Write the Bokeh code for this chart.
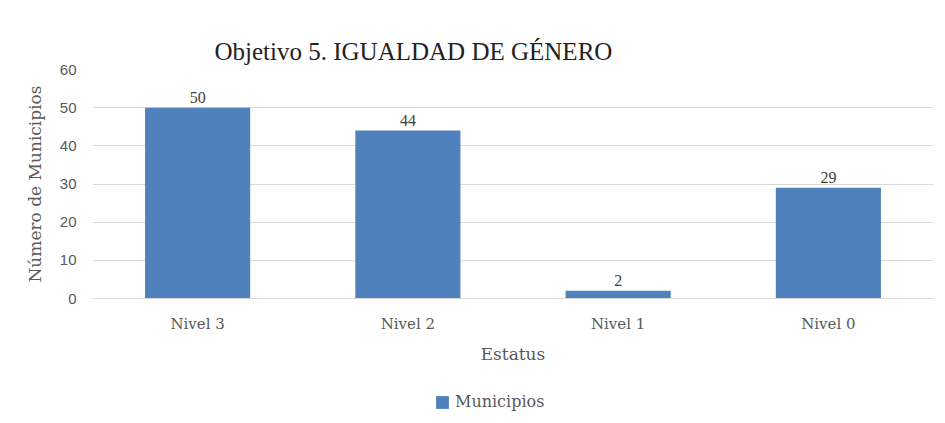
from bokeh.plotting import figure
from bokeh.layouts import column
from bokeh.models import ColumnDataSource, Legend, LegendItem, LabelSet, FixedTicker, Title
from bokeh.embed import file_html
from bokeh.resources import INLINE

categories = ["Nivel 3", "Nivel 2", "Nivel 1", "Nivel 0"]
municipios = [50, 44, 2, 29]
labels = [str(v) for v in municipios]
y_ticks = [0, 10, 20, 30, 40, 50, 60]
series_name = "Municipios"
bar_color = "#4F81BD"

src = ColumnDataSource(dict(cat=categories, val=municipios, lab=labels))

p = figure(x_range=categories, y_range=(0, 60), frame_width=841, frame_height=229,
           output_backend="svg", toolbar_location=None,
           min_border_left=92, min_border_right=4, min_border_top=69, min_border_bottom=70)

p.title = Title(text="Objetivo 5. IGUALDAD DE GÉNERO", align="left", offset=122,
                text_font="Liberation Serif", text_font_size="25px",
                text_font_style="normal", text_color="#222222", standoff=10)

r = p.vbar(x="cat", top="val", width=0.5, source=src, color=bar_color, line_color=None)

lbl = LabelSet(x="cat", y="val", text="lab", source=src, text_align="center",
               text_baseline="bottom", y_offset=5, text_font="Liberation Sans",
               text_font_size="16px", text_color="#404040")
p.add_layout(lbl)

p.outline_line_color = None
p.xgrid.grid_line_color = None
p.ygrid.grid_line_color = "#D9D9D9"
p.ygrid.ticker = FixedTicker(ticks=y_ticks)

p.yaxis.ticker = FixedTicker(ticks=y_ticks)
p.yaxis.axis_line_color = None
p.yaxis.major_tick_line_color = None
p.yaxis.minor_tick_line_color = None
p.yaxis.major_label_text_font = "Liberation Sans"
p.yaxis.major_label_text_font_size = "15px"
p.yaxis.major_label_text_color = "#595959"
p.yaxis.major_label_standoff = 10
p.yaxis.axis_label = "Número de Municipios"
p.yaxis.axis_label_text_font = "DejaVu Serif"
p.yaxis.axis_label_text_font_size = "17px"
p.yaxis.axis_label_text_font_style = "normal"
p.yaxis.axis_label_text_color = "#595959"
p.yaxis.axis_label_standoff = 12

p.xaxis.axis_line_color = "#D9D9D9"
p.xaxis.major_tick_line_color = None
p.xaxis.minor_tick_line_color = None
p.xaxis.major_label_text_font = "DejaVu Serif"
p.xaxis.major_label_text_font_size = "15px"
p.xaxis.major_label_text_color = "#595959"
p.xaxis.major_label_standoff = 10
p.xaxis.axis_label = "Estatus"
p.xaxis.axis_label_text_font = "DejaVu Serif"
p.xaxis.axis_label_text_font_size = "17px"
p.xaxis.axis_label_text_font_style = "normal"
p.xaxis.axis_label_text_color = "#595959"
p.xaxis.axis_label_standoff = 8

# legend strip below the chart (bars lie outside its visible y range)
q = figure(width=937, height=52, output_backend="svg", toolbar_location=None,
           x_axis_type=None, y_axis_type=None, x_range=categories, y_range=(1000, 1001),
           min_border=0)
q.outline_line_color = None
q.xgrid.grid_line_color = None
q.ygrid.grid_line_color = None
lr = q.vbar(x="cat", top="val", width=0.5, source=src, color=bar_color, line_color=None)

legend = Legend(items=[LegendItem(label=series_name, renderers=[lr])],
                orientation="horizontal", location=(342, 9),
                label_text_font="DejaVu Serif", label_text_font_size="16px",
                label_text_color="#595959", glyph_width=16, glyph_height=16,
                border_line_color=None, background_fill_alpha=0, margin=0,
                padding=4, label_standoff=5)
q.add_layout(legend, "center")

layout = column(p, q, spacing=0)
open("out.html", "w").write(file_html(layout, INLINE))
